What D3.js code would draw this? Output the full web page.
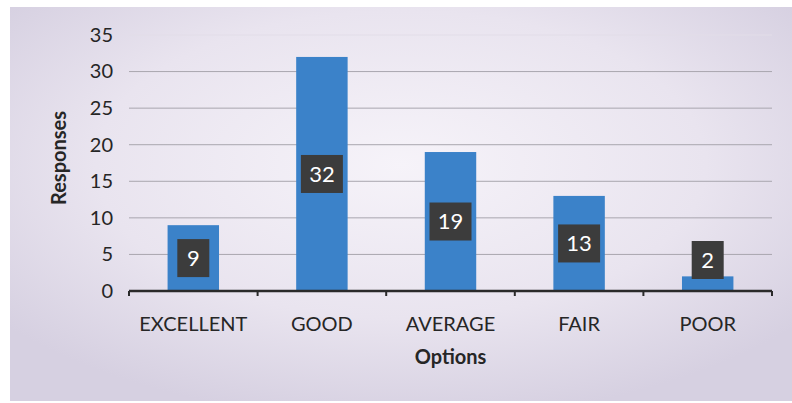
<!DOCTYPE html>
<html>
<head>
<meta charset="utf-8">
<script src="https://cdn.jsdelivr.net/npm/d3@7"></script>
<style>
  html, body { margin: 0; padding: 0; background: #ffffff; }
  svg { display: block; font-family: Lato, "Open Sans", sans-serif; }
</style>
</head>
<body>
<div id="chart"></div>
<script>
// survey responses per option
const categories = ["EXCELLENT", "GOOD", "AVERAGE", "FAIR", "POOR"];
const responses = [9, 32, 19, 13, 2];
const yTicks = [0, 5, 10, 15, 20, 25, 30, 35];

const width = 792, height = 403;
const margin = { left: 129, right: 20, top: 35, bottom: 112 };

const svg = d3.select("#chart").append("svg")
    .attr("width", width)
    .attr("height", height);

// panel background: lavender, lighter in the middle
const defs = svg.append("defs");
const grad = defs.append("radialGradient")
    .attr("id", "panelBg")
    .attr("cx", "50%").attr("cy", "40%").attr("r", "65%");
grad.append("stop").attr("offset", "0%").attr("stop-color", "#f6f3f9");
grad.append("stop").attr("offset", "60%").attr("stop-color", "#e9e4ef");
grad.append("stop").attr("offset", "100%").attr("stop-color", "#d6d0e1");

svg.append("rect")
    .attr("x", 10).attr("y", 7)
    .attr("width", width - 10).attr("height", height - 9)
    .attr("fill", "url(#panelBg)");

const x = d3.scaleBand()
    .domain(categories)
    .range([margin.left, width - margin.right])
    .paddingInner(0.6)
    .paddingOuter(0.3);

const y = d3.scaleLinear()
    .domain([0, 35])
    .range([height - margin.bottom, margin.top]);

// gridlines
svg.append("g")
    .selectAll("line")
    .data(yTicks.filter(d => d > 0))
    .join("line")
    .attr("x1", margin.left)
    .attr("x2", width - margin.right)
    .attr("y1", d => y(d))
    .attr("y2", d => y(d))
    .attr("stroke", d => d === 35 ? "#e2dde8" : "#a9a6ae")
    .attr("stroke-width", 1);

// y axis labels (no axis line in the original)
const yAxis = svg.append("g")
    .attr("transform", `translate(${margin.left},0)`)
    .call(d3.axisLeft(y).tickValues(yTicks).tickSize(0).tickPadding(16));
yAxis.select(".domain").remove();
yAxis.selectAll("text")
    .attr("font-size", 20)
    .attr("fill", "#262626")
    .attr("font-family", "Lato, 'Open Sans', sans-serif");

// bars
svg.append("g")
    .selectAll("rect")
    .data(responses)
    .join("rect")
    .attr("x", (d, i) => x(categories[i]))
    .attr("y", d => y(d))
    .attr("width", x.bandwidth())
    .attr("height", d => y(0) - y(d))
    .attr("fill", "#3b82c9");

// x axis with ticks between categories
const base = y(0);
const step = x.step();
const xAxis = svg.append("g");
xAxis.append("line")
    .attr("x1", margin.left).attr("x2", width - margin.right)
    .attr("y1", base).attr("y2", base)
    .attr("stroke", "#2a2a2a").attr("stroke-width", 2.5);
xAxis.selectAll("line.tick")
    .data(d3.range(categories.length + 1))
    .join("line")
    .attr("class", "tick")
    .attr("x1", i => margin.left + i * step)
    .attr("x2", i => margin.left + i * step)
    .attr("y1", base).attr("y2", base + 5)
    .attr("stroke", "#2a2a2a").attr("stroke-width", 2);
xAxis.selectAll("text")
    .data(categories)
    .join("text")
    .attr("x", d => x(d) + x.bandwidth() / 2)
    .attr("y", base + 40)
    .attr("text-anchor", "middle")
    .attr("font-size", 20)
    .attr("fill", "#262626")
    .text(d => d);

// value labels: dark boxes, centred in bar, kept clear of the axis
const labels = svg.append("g")
    .selectAll("g")
    .data(responses)
    .join("g")
    .attr("transform", (d, i) => {
        const cx = x(categories[i]) + x.bandwidth() / 2;
        const cy = Math.min((y(d) + base) / 2, base - 31);
        return `translate(${cx},${cy})`;
    });
labels.append("rect")
    .attr("x", d => -(11 + String(d).length * 5))
    .attr("y", -19)
    .attr("width", d => 22 + String(d).length * 10)
    .attr("height", 38)
    .attr("fill", "#3c3c3c");
labels.append("text")
    .attr("text-anchor", "middle")
    .attr("dy", "0.36em")
    .attr("font-size", 22)
    .attr("fill", "#ffffff")
    .text(d => d);

// axis titles
svg.append("text")
    .attr("transform", `translate(66,${(margin.top + base) / 2 - 5}) rotate(-90)`)
    .attr("text-anchor", "middle")
    .attr("font-size", 20)
    .attr("font-weight", "bold")
    .attr("fill", "#262626")
    .text("Responses");

svg.append("text")
    .attr("x", (margin.left + width - margin.right) / 2)
    .attr("y", 364)
    .attr("text-anchor", "middle")
    .attr("font-size", 20)
    .attr("font-weight", "bold")
    .attr("fill", "#262626")
    .text("Options");
</script>
</body>
</html>
